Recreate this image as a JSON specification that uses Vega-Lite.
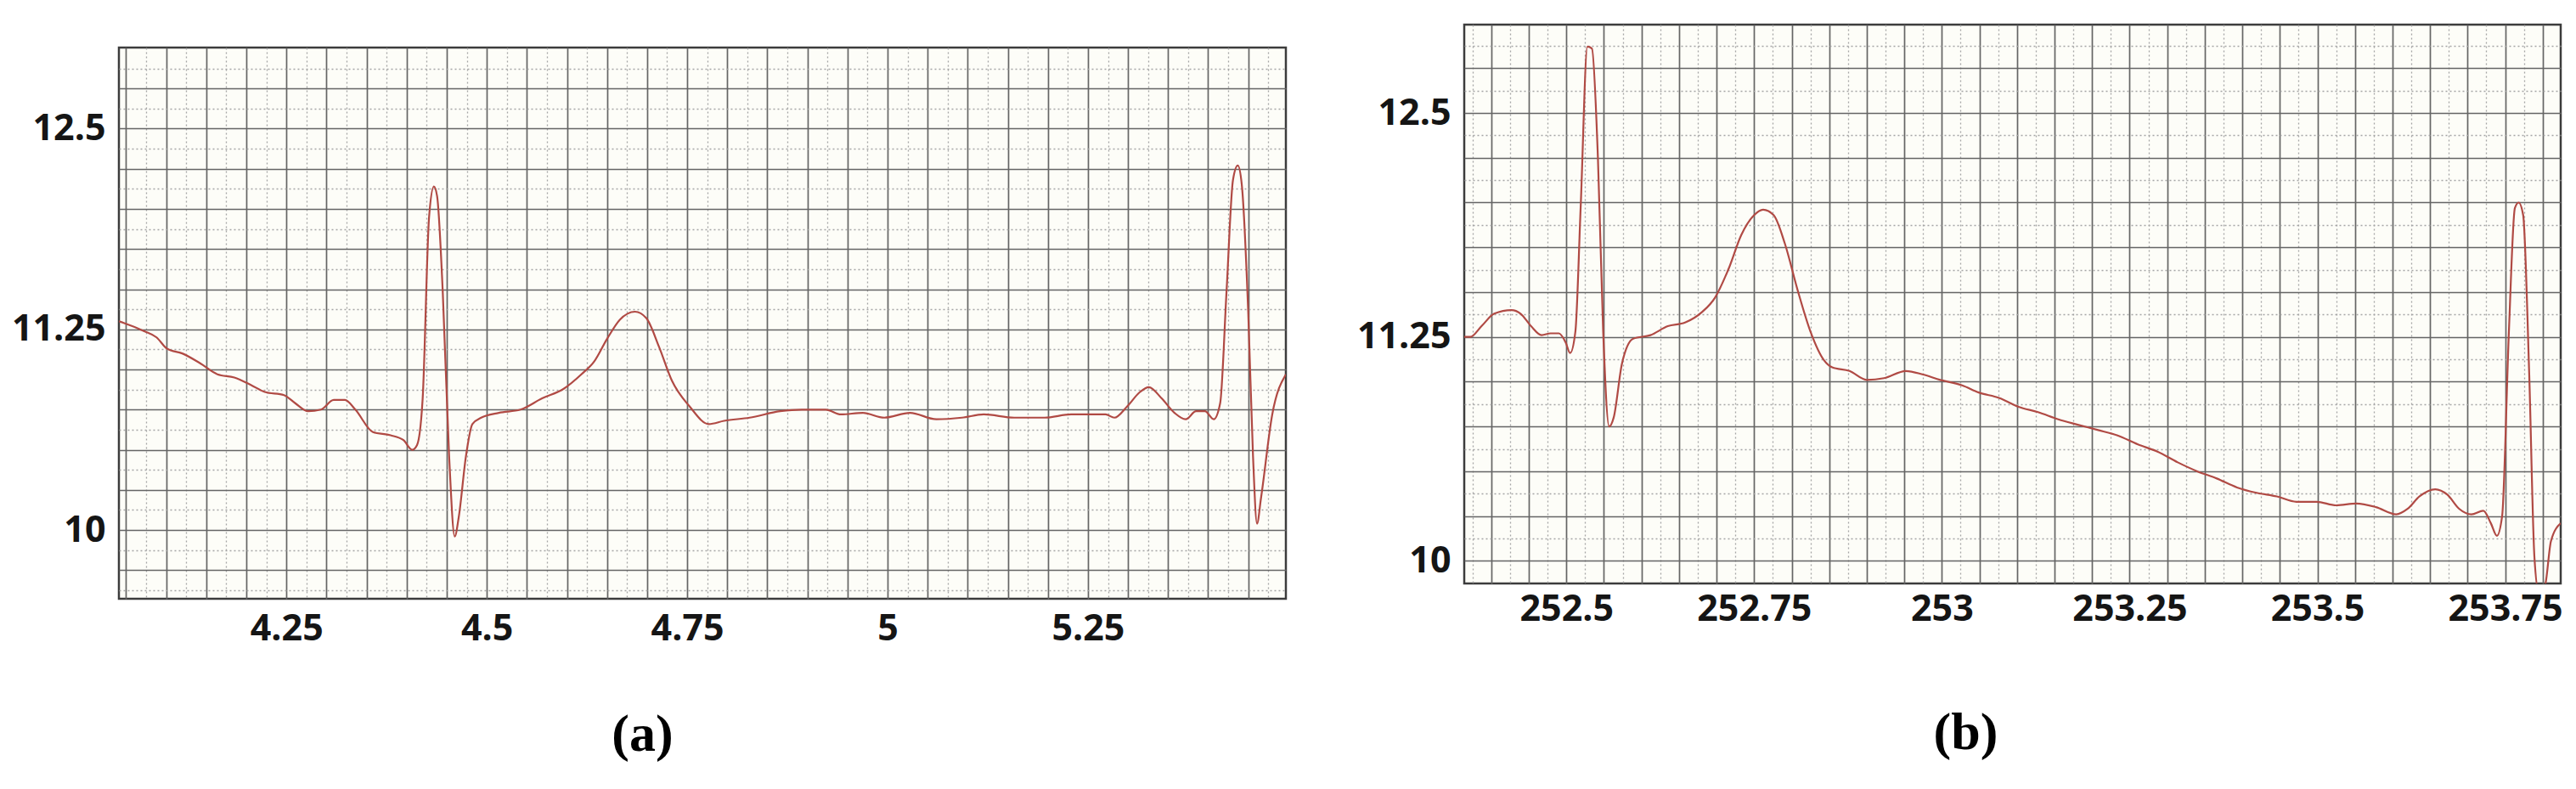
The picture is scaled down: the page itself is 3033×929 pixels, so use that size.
{
  "$schema": "https://vega.github.io/schema/vega-lite/v6.json",
  "padding": {"left": 8, "top": 27, "right": 20, "bottom": 10},
  "background": "white",
  "spacing": 76,
  "config": {
    "view": {"stroke": "#3c3c3c", "strokeWidth": 2.5, "fill": "#fdfdf8"},
    "axis": {
      "labelFont": "Open Sans", "labelFontWeight": "bold", "labelFontSize": 43, "labelColor": "#151515",
      "ticks": false, "domain": false, "grid": true, "labelOverlap": false, "labelFlush": false
    }
  },
  "datasets": {
    "a": [
      {"t": 4.041, "v": 11.30}, {"t": 4.047, "v": 11.29}, {"t": 4.072, "v": 11.24}, {"t": 4.088, "v": 11.20},
      {"t": 4.101, "v": 11.13}, {"t": 4.120, "v": 11.10}, {"t": 4.142, "v": 11.04}, {"t": 4.164, "v": 10.97},
      {"t": 4.185, "v": 10.95}, {"t": 4.207, "v": 10.90}, {"t": 4.223, "v": 10.86}, {"t": 4.247, "v": 10.84},
      {"t": 4.261, "v": 10.79}, {"t": 4.277, "v": 10.74}, {"t": 4.293, "v": 10.75}, {"t": 4.309, "v": 10.81},
      {"t": 4.323, "v": 10.81}, {"t": 4.336, "v": 10.75}, {"t": 4.358, "v": 10.61}, {"t": 4.380, "v": 10.59},
      {"t": 4.396, "v": 10.56}, {"t": 4.407, "v": 10.50}, {"t": 4.413, "v": 10.53}, {"t": 4.420, "v": 10.82},
      {"t": 4.428, "v": 11.95}, {"t": 4.434, "v": 12.14}, {"t": 4.438, "v": 12.08}, {"t": 4.445, "v": 11.49},
      {"t": 4.453, "v": 10.46}, {"t": 4.460, "v": 9.96}, {"t": 4.465, "v": 10.08}, {"t": 4.474, "v": 10.46},
      {"t": 4.482, "v": 10.66}, {"t": 4.493, "v": 10.70}, {"t": 4.515, "v": 10.73}, {"t": 4.542, "v": 10.75},
      {"t": 4.569, "v": 10.82}, {"t": 4.596, "v": 10.88}, {"t": 4.618, "v": 10.97}, {"t": 4.634, "v": 11.05},
      {"t": 4.650, "v": 11.19}, {"t": 4.666, "v": 11.31}, {"t": 4.685, "v": 11.36}, {"t": 4.699, "v": 11.32},
      {"t": 4.715, "v": 11.14}, {"t": 4.731, "v": 10.93}, {"t": 4.753, "v": 10.77}, {"t": 4.777, "v": 10.66},
      {"t": 4.796, "v": 10.68}, {"t": 4.828, "v": 10.70}, {"t": 4.866, "v": 10.74}, {"t": 4.893, "v": 10.75},
      {"t": 4.923, "v": 10.75}, {"t": 4.942, "v": 10.72}, {"t": 4.969, "v": 10.73}, {"t": 4.996, "v": 10.70},
      {"t": 5.028, "v": 10.73}, {"t": 5.061, "v": 10.69}, {"t": 5.093, "v": 10.70}, {"t": 5.120, "v": 10.72},
      {"t": 5.158, "v": 10.70}, {"t": 5.196, "v": 10.70}, {"t": 5.229, "v": 10.72}, {"t": 5.272, "v": 10.72},
      {"t": 5.283, "v": 10.70}, {"t": 5.299, "v": 10.77}, {"t": 5.315, "v": 10.86}, {"t": 5.326, "v": 10.89},
      {"t": 5.342, "v": 10.82}, {"t": 5.358, "v": 10.73}, {"t": 5.372, "v": 10.69}, {"t": 5.385, "v": 10.74},
      {"t": 5.396, "v": 10.74}, {"t": 5.407, "v": 10.69}, {"t": 5.415, "v": 10.79}, {"t": 5.423, "v": 11.49},
      {"t": 5.431, "v": 12.18}, {"t": 5.437, "v": 12.27}, {"t": 5.442, "v": 12.15}, {"t": 5.450, "v": 11.36},
      {"t": 5.456, "v": 10.46}, {"t": 5.461, "v": 10.04}, {"t": 5.466, "v": 10.20}, {"t": 5.480, "v": 10.72},
      {"t": 5.497, "v": 10.97}
    ],
    "b": [
      {"t": 252.364, "v": 11.25}, {"t": 252.372, "v": 11.25}, {"t": 252.387, "v": 11.31}, {"t": 252.404, "v": 11.38},
      {"t": 252.427, "v": 11.40}, {"t": 252.439, "v": 11.38}, {"t": 252.453, "v": 11.31}, {"t": 252.467, "v": 11.26},
      {"t": 252.479, "v": 11.27}, {"t": 252.490, "v": 11.27}, {"t": 252.499, "v": 11.22}, {"t": 252.505, "v": 11.16},
      {"t": 252.512, "v": 11.28}, {"t": 252.519, "v": 11.97}, {"t": 252.528, "v": 12.87}, {"t": 252.534, "v": 12.86},
      {"t": 252.542, "v": 12.25}, {"t": 252.549, "v": 11.28}, {"t": 252.557, "v": 10.75}, {"t": 252.563, "v": 10.80},
      {"t": 252.574, "v": 11.10}, {"t": 252.589, "v": 11.24}, {"t": 252.612, "v": 11.26}, {"t": 252.635, "v": 11.31},
      {"t": 252.658, "v": 11.33}, {"t": 252.681, "v": 11.39}, {"t": 252.698, "v": 11.47}, {"t": 252.716, "v": 11.63},
      {"t": 252.733, "v": 11.82}, {"t": 252.750, "v": 11.93}, {"t": 252.762, "v": 11.96}, {"t": 252.776, "v": 11.93},
      {"t": 252.791, "v": 11.77}, {"t": 252.808, "v": 11.51}, {"t": 252.825, "v": 11.28}, {"t": 252.843, "v": 11.12},
      {"t": 252.854, "v": 11.08}, {"t": 252.877, "v": 11.06}, {"t": 252.900, "v": 11.01}, {"t": 252.923, "v": 11.02},
      {"t": 252.952, "v": 11.06}, {"t": 252.975, "v": 11.04}, {"t": 252.998, "v": 11.01}, {"t": 253.027, "v": 10.98},
      {"t": 253.049, "v": 10.94}, {"t": 253.076, "v": 10.91}, {"t": 253.102, "v": 10.86}, {"t": 253.128, "v": 10.83},
      {"t": 253.155, "v": 10.79}, {"t": 253.181, "v": 10.76}, {"t": 253.208, "v": 10.73}, {"t": 253.234, "v": 10.70},
      {"t": 253.261, "v": 10.65}, {"t": 253.287, "v": 10.61}, {"t": 253.314, "v": 10.55}, {"t": 253.340, "v": 10.50},
      {"t": 253.366, "v": 10.46}, {"t": 253.393, "v": 10.41}, {"t": 253.419, "v": 10.38}, {"t": 253.446, "v": 10.36},
      {"t": 253.472, "v": 10.33}, {"t": 253.499, "v": 10.33}, {"t": 253.525, "v": 10.31}, {"t": 253.552, "v": 10.32},
      {"t": 253.578, "v": 10.30}, {"t": 253.605, "v": 10.26}, {"t": 253.620, "v": 10.29}, {"t": 253.636, "v": 10.36},
      {"t": 253.657, "v": 10.40}, {"t": 253.673, "v": 10.37}, {"t": 253.689, "v": 10.29}, {"t": 253.705, "v": 10.26},
      {"t": 253.721, "v": 10.28}, {"t": 253.731, "v": 10.21}, {"t": 253.739, "v": 10.14}, {"t": 253.746, "v": 10.25},
      {"t": 253.755, "v": 11.28}, {"t": 253.763, "v": 11.97}, {"t": 253.768, "v": 12.00}, {"t": 253.774, "v": 11.93},
      {"t": 253.782, "v": 11.05}, {"t": 253.789, "v": 10.02}, {"t": 253.795, "v": 9.82}, {"t": 253.803, "v": 9.86},
      {"t": 253.811, "v": 10.11}, {"t": 253.824, "v": 10.21}
    ]
  },
  "hconcat": [
    {
      "spacing": 0,
      "vconcat": [
        {
          "width": 10,
          "height": 25,
          "data": {"values": []},
          "mark": "point",
          "view": {"stroke": null, "fill": null}
        },
        {
          "width": 1374,
          "height": 649,
          "data": {"name": "a"},
          "mark": {"type": "line", "color": "#b04a44", "strokeWidth": 2.2, "interpolate": "monotone", "clip": true},
          "encoding": {
            "x": {
              "field": "t", "type": "quantitative",
              "scale": {"domain": [4.041, 5.497], "nice": false, "zero": false},
              "axis": {
                "values": [4.05, 4.075, 4.1, 4.125, 4.15, 4.175, 4.2, 4.225, 4.25, 4.275, 4.3, 4.325, 4.35, 4.375, 4.4, 4.425, 4.45, 4.475, 4.5, 4.525, 4.55, 4.575, 4.6, 4.625, 4.65, 4.675, 4.7, 4.725, 4.75, 4.775, 4.8, 4.825, 4.85, 4.875, 4.9, 4.925, 4.95, 4.975, 5, 5.025, 5.05, 5.075, 5.1, 5.125, 5.15, 5.175, 5.2, 5.225, 5.25, 5.275, 5.3, 5.325, 5.35, 5.375, 5.4, 5.425, 5.45, 5.475],
                "labelExpr": "abs(datum.value*4-round(datum.value*4))<0.01 ? format(datum.value,'~g') : ''",
                "labelPadding": 14,
                "gridColor": {"condition": {"test": "abs(datum.value*20-round(datum.value*20))<0.01", "value": "#656565"}, "value": "#a5a5a5"},
                "gridDash": {"condition": {"test": "abs(datum.value*20-round(datum.value*20))<0.01", "value": []}, "value": [2, 3]},
                "gridWidth": {"condition": {"test": "abs(datum.value*20-round(datum.value*20))<0.01", "value": 1.7}, "value": 1.3},
                "title": "(a)",
                "titleFont": "Liberation Serif", "titleFontSize": 62, "titleFontWeight": "bold", "titleColor": "#000000",
                "titleX": 616, "titleY": 159, "titleBaseline": "middle", "titleAlign": "center", "titleAnchor": "start"
              }
            },
            "y": {
              "field": "v", "type": "quantitative",
              "scale": {"domain": [9.572, 13.005], "nice": false, "zero": false},
              "axis": {
                "values": [9.625, 9.75, 9.875, 10, 10.125, 10.25, 10.375, 10.5, 10.625, 10.75, 10.875, 11, 11.125, 11.25, 11.375, 11.5, 11.625, 11.75, 11.875, 12, 12.125, 12.25, 12.375, 12.5, 12.625, 12.75, 12.875],
                "labelExpr": "abs(datum.value*0.8-round(datum.value*0.8))<0.01 ? format(datum.value,'~g') : ''",
                "labelPadding": 16, "minExtent": 130, "maxExtent": 130, "title": null,
                "gridColor": {"condition": {"test": "abs(datum.value*4-round(datum.value*4))<0.01", "value": "#656565"}, "value": "#a5a5a5"},
                "gridDash": {"condition": {"test": "abs(datum.value*4-round(datum.value*4))<0.01", "value": []}, "value": [2, 3]},
                "gridWidth": {"condition": {"test": "abs(datum.value*4-round(datum.value*4))<0.01", "value": 1.7}, "value": 1.3}
              }
            }
          }
        }
      ]
    },
    {
      "width": 1291,
      "height": 658,
      "data": {"name": "b"},
      "mark": {"type": "line", "color": "#b04a44", "strokeWidth": 2.2, "interpolate": "monotone", "clip": true},
      "encoding": {
        "x": {
          "field": "t", "type": "quantitative",
          "scale": {"domain": [252.364, 253.824], "nice": false, "zero": false},
          "axis": {
            "values": [252.375, 252.4, 252.425, 252.45, 252.475, 252.5, 252.525, 252.55, 252.575, 252.6, 252.625, 252.65, 252.675, 252.7, 252.725, 252.75, 252.775, 252.8, 252.825, 252.85, 252.875, 252.9, 252.925, 252.95, 252.975, 253, 253.025, 253.05, 253.075, 253.1, 253.125, 253.15, 253.175, 253.2, 253.225, 253.25, 253.275, 253.3, 253.325, 253.35, 253.375, 253.4, 253.425, 253.45, 253.475, 253.5, 253.525, 253.55, 253.575, 253.6, 253.625, 253.65, 253.675, 253.7, 253.725, 253.75, 253.775, 253.8],
            "labelExpr": "abs(datum.value*4-round(datum.value*4))<0.01 ? format(datum.value,'~g') : ''",
            "labelPadding": 9,
            "gridColor": {"condition": {"test": "abs(datum.value*20-round(datum.value*20))<0.01", "value": "#656565"}, "value": "#a5a5a5"},
            "gridDash": {"condition": {"test": "abs(datum.value*20-round(datum.value*20))<0.01", "value": []}, "value": [2, 3]},
            "gridWidth": {"condition": {"test": "abs(datum.value*20-round(datum.value*20))<0.01", "value": 1.7}, "value": 1.3},
            "title": "(b)",
            "titleFont": "Liberation Serif", "titleFontSize": 62, "titleFontWeight": "bold", "titleColor": "#000000",
            "titleX": 590, "titleY": 175, "titleBaseline": "middle", "titleAlign": "center", "titleAnchor": "start"
          }
        },
        "y": {
          "field": "v", "type": "quantitative",
          "scale": {"domain": [9.874, 12.993], "nice": false, "zero": false},
          "axis": {
            "values": [10, 10.125, 10.25, 10.375, 10.5, 10.625, 10.75, 10.875, 11, 11.125, 11.25, 11.375, 11.5, 11.625, 11.75, 11.875, 12, 12.125, 12.25, 12.375, 12.5, 12.625, 12.75, 12.875],
            "labelExpr": "abs(datum.value*0.8-round(datum.value*0.8))<0.01 ? format(datum.value,'~g') : ''",
            "labelPadding": 16, "minExtent": 130, "maxExtent": 130, "title": null,
            "gridColor": {"condition": {"test": "abs(datum.value*4-round(datum.value*4))<0.01", "value": "#656565"}, "value": "#a5a5a5"},
            "gridDash": {"condition": {"test": "abs(datum.value*4-round(datum.value*4))<0.01", "value": []}, "value": [2, 3]},
            "gridWidth": {"condition": {"test": "abs(datum.value*4-round(datum.value*4))<0.01", "value": 1.7}, "value": 1.3}
          }
        }
      }
    }
  ]
}
